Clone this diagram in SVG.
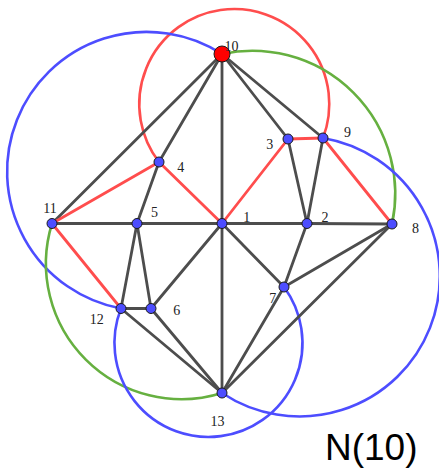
<svg xmlns="http://www.w3.org/2000/svg" width="439" height="470" viewBox="0 0 439 470">
<style>
.arc{fill:none;stroke-width:2.6}
.blue{stroke:#4d4dff}
.red{stroke:#ff4d4d}
.green{stroke:#66b040}
.e{stroke:#4d4d4d;stroke-width:2.8;stroke-linecap:round}
.r{stroke:#ff4d4d;stroke-width:2.8;stroke-linecap:round}
.n{fill:#4d4dff;stroke:#1a1a1a;stroke-width:1}
.lbl{font-family:"Liberation Serif","DejaVu Serif",serif;font-size:14px;fill:#222;text-anchor:middle}
</style>
<rect width="439" height="470" fill="#fff"/>
<g id="circles">
<path class="arc red" d="M 159 162 A 95 95 0 1 1 323 138"/>
<path class="arc blue" d="M 222 54 A 139.5 139.5 0 1 0 121 308.5"/>
<path class="arc green" d="M 222 54 A 143 143 0 0 1 392 224"/>
<path class="arc green" d="M 52 223.5 A 135.6 135.6 0 0 0 222 393"/>
<path class="arc blue" d="M 323 138 A 140.2 140.2 0 1 1 222 393"/>
<path class="arc blue" d="M 121 308.5 A 94 94 0 1 0 284 287"/>
</g>
<g id="connectors">
<line class="e" x1="222" y1="54" x2="52" y2="223.5"/>
<line class="e" x1="222" y1="54" x2="159" y2="162"/>
<line class="e" x1="222" y1="54" x2="222" y2="223.5"/>
<line class="e" x1="222" y1="54" x2="288" y2="139"/>
<line class="e" x1="222" y1="54" x2="323" y2="138"/>
<line class="e" x1="159" y1="162" x2="137" y2="223.5"/>
<line class="e" x1="52" y1="223.5" x2="137" y2="223.5"/>
<line class="e" x1="137" y1="223.5" x2="222" y2="223.5"/>
<line class="e" x1="222" y1="223.5" x2="307" y2="223.5"/>
<line class="e" x1="307" y1="223.5" x2="392" y2="224"/>
<line class="e" x1="137" y1="223.5" x2="121" y2="308.5"/>
<line class="e" x1="137" y1="223.5" x2="151" y2="308.5"/>
<line class="e" x1="121" y1="308.5" x2="151" y2="308.5"/>
<line class="e" x1="151" y1="308.5" x2="222" y2="223.5"/>
<line class="e" x1="222" y1="223.5" x2="222" y2="393"/>
<line class="e" x1="222" y1="223.5" x2="284" y2="287"/>
<line class="e" x1="307" y1="223.5" x2="284" y2="287"/>
<line class="e" x1="284" y1="287" x2="392" y2="224"/>
<line class="e" x1="284" y1="287" x2="222" y2="393"/>
<line class="e" x1="392" y1="224" x2="222" y2="393"/>
<line class="e" x1="288" y1="139" x2="307" y2="223.5"/>
<line class="e" x1="323" y1="138" x2="307" y2="223.5"/>
<line class="e" x1="121" y1="308.5" x2="222" y2="393"/>
<line class="e" x1="151" y1="308.5" x2="222" y2="393"/>
<line class="r" x1="52" y1="223.5" x2="159" y2="162"/>
<line class="r" x1="159" y1="162" x2="222" y2="223.5"/>
<line class="r" x1="52" y1="223.5" x2="121" y2="308.5"/>
<line class="r" x1="222" y1="223.5" x2="288" y2="139"/>
<line class="r" x1="288" y1="139" x2="323" y2="138"/>
<line class="r" x1="323" y1="138" x2="392" y2="224"/>
</g>
<g id="node1"><circle class="n" cx="222" cy="223.5" r="5"/><text class="lbl" x="246.7" y="221.7">1</text></g>
<g id="node2"><circle class="n" cx="307" cy="223.5" r="5"/><text class="lbl" x="325" y="221.7">2</text></g>
<g id="node3"><circle class="n" cx="288" cy="139" r="5"/><text class="lbl" x="269.7" y="149.3">3</text></g>
<g id="node4"><circle class="n" cx="159" cy="162" r="5"/><text class="lbl" x="180.7" y="171.7">4</text></g>
<g id="node5"><circle class="n" cx="137" cy="223.5" r="5"/><text class="lbl" x="154.5" y="217.3">5</text></g>
<g id="node6"><circle class="n" cx="151" cy="308.5" r="5"/><text class="lbl" x="176.7" y="315">6</text></g>
<g id="node7"><circle class="n" cx="284" cy="287" r="5"/><text class="lbl" x="272.7" y="303.3">7</text></g>
<g id="node8"><circle class="n" cx="392" cy="224" r="5"/><text class="lbl" x="415.5" y="233.3">8</text></g>
<g id="node9"><circle class="n" cx="323" cy="138" r="5"/><text class="lbl" x="347.5" y="137.3">9</text></g>
<g id="node11"><circle class="n" cx="52" cy="223.5" r="5"/><text class="lbl" x="50" y="212.7">11</text></g>
<g id="node12"><circle class="n" cx="121" cy="308.5" r="5"/><text class="lbl" x="96.7" y="324">12</text></g>
<g id="node13"><circle class="n" cx="222" cy="393" r="5"/><text class="lbl" x="217.5" y="425.7">13</text></g>
<g id="node10"><circle cx="222" cy="54" r="8" fill="#ff0000" stroke="#1a1a1a" stroke-width="1"/><text class="lbl" x="231.5" y="50.5">10</text></g>
<text x="325" y="460" font-family="'Liberation Sans',Arial,sans-serif" font-size="37" fill="#000">N(10)</text>
</svg>
